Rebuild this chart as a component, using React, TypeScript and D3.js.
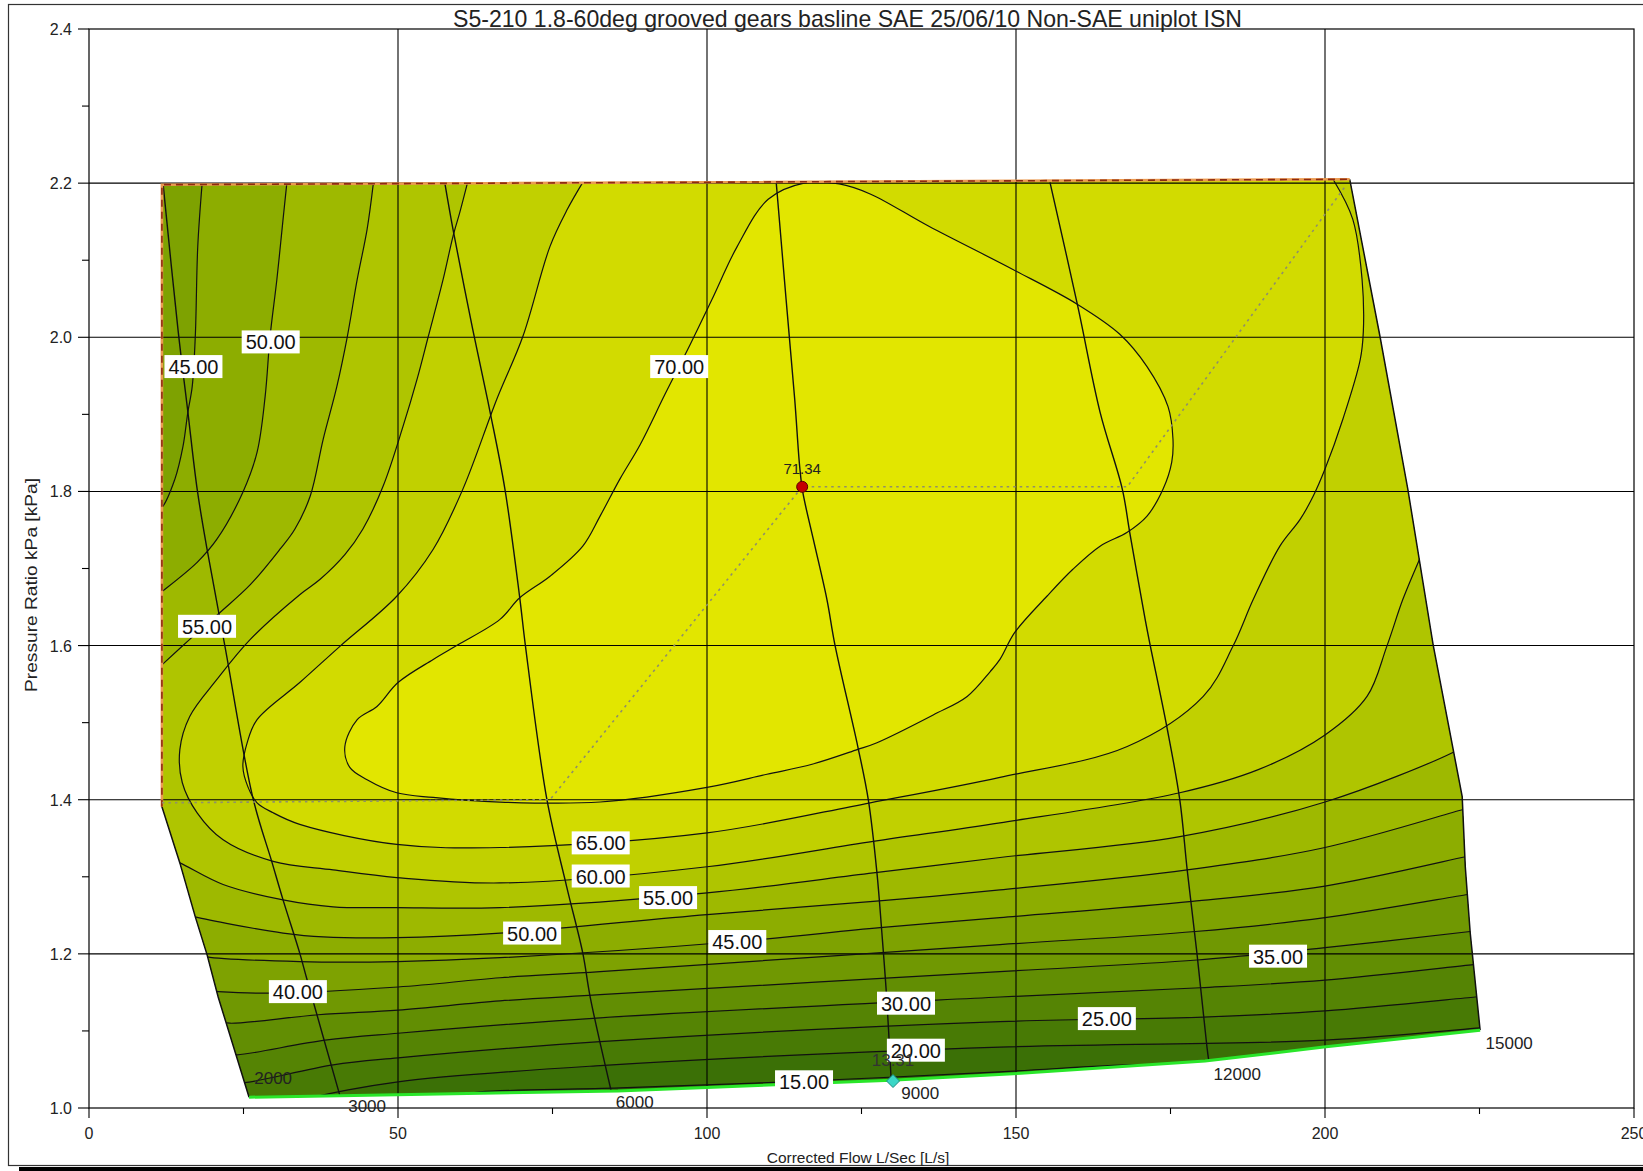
import React from 'react';
import * as d3 from 'd3';

type P = [number, number];

const TITLE = 'S5-210 1.8-60deg grooved gears basline SAE 25/06/10 Non-SAE uniplot ISN';
const X_TITLE = 'Corrected Flow L/Sec [L/s]';
const Y_TITLE = 'Pressure Ratio kPa [kPa]';

const X_MAJOR = [0, 50, 100, 150, 200, 250];
const X_MINOR = [25, 75, 125, 175, 225];
const Y_MAJOR = [1.0, 1.2, 1.4, 1.6, 1.8, 2.0, 2.2, 2.4];
const Y_MINOR = [1.1, 1.3, 1.5, 1.7, 1.9, 2.1, 2.3];

const LEVELS = [15, 20, 25, 30, 35, 40, 45, 50, 55, 60, 65, 70];
const BAND_COLORS = ['#2f6606', '#3b7006', '#487a05', '#558404', '#628e03', '#709802', '#7ea201',
  '#8dad00', '#9eb900', '#afc500', '#c1d000', '#d2db00', '#e2e600'];

// map boundary (flow L/s, pressure ratio)
const SURGE_LINE: P[] = [[11.8, 1.391], [11.8, 2.198], [204.0, 2.205]];
const SPEED_15000: P[] = [[204.0, 2.205], [208.9, 2.001], [213.4, 1.803], [217.5, 1.601], [222.2, 1.404], [222.7, 1.313], [223.5, 1.227], [225.1, 1.101]];
const CHOKE_EDGE: P[] = [[225.1, 1.101], [199.8, 1.079], [180.6, 1.061], [150.8, 1.045], [129.8, 1.036], [85.6, 1.022], [40.6, 1.016], [25.9, 1.014]];
const SPEED_2000: P[] = [[25.9, 1.014], [20.9, 1.144], [19.1, 1.199], [17.2, 1.248], [14.7, 1.318], [11.8, 1.391]];

// speed lines
const SPEED_3000: P[] = [[12.0, 2.198], [14.4, 2.010], [16.0, 1.903], [17.5, 1.803], [19.1, 1.725], [22.0, 1.599], [26.5, 1.403], [29.6, 1.319], [31.4, 1.270], [34.1, 1.201], [35.3, 1.166], [40.6, 1.016]];
const SPEED_6000: P[] = [[57.6, 2.199], [58.9, 2.140], [62.1, 2.010], [64.9, 1.903], [67.3, 1.803], [69.7, 1.662], [70.6, 1.601], [74.1, 1.400], [77.3, 1.287], [79.9, 1.201], [81.1, 1.144], [84.5, 1.022]];
const SPEED_9000: P[] = [[111.2, 2.201], [112.8, 2.049], [114.2, 1.919], [115.0, 1.832], [115.5, 1.799], [117.2, 1.738], [119.4, 1.660], [120.7, 1.601], [124.4, 1.469], [126.1, 1.400], [127.5, 1.305], [128.3, 1.227], [129.1, 1.140], [129.8, 1.036]];
const SPEED_12000: P[] = [[155.5, 2.201], [160.0, 2.040], [163.6, 1.903], [167.2, 1.803], [168.4, 1.747], [170.9, 1.634], [171.7, 1.601], [174.4, 1.495], [176.5, 1.400], [177.7, 1.309], [179.3, 1.199], [180.9, 1.079], [181.2, 1.061]];

// efficiency contours
const C70: P[] = [[115.7, 2.200], [109.9, 2.179], [104.9, 2.118], [100.8, 2.049], [97.3, 1.991], [93.2, 1.926], [89.2, 1.861], [85.9, 1.816], [82.7, 1.768], [79.9, 1.729], [74.6, 1.690], [69.7, 1.662], [66.5, 1.634], [59.7, 1.601], [55.7, 1.582], [50.0, 1.552], [46.6, 1.521], [43.4, 1.504], [41.4, 1.469], [42.2, 1.442], [45.0, 1.426], [49.8, 1.409], [55.7, 1.403], [66.5, 1.397], [82.7, 1.397], [100.0, 1.416], [109.7, 1.433], [117.0, 1.446], [124.3, 1.465], [127.5, 1.474], [136.6, 1.510], [142.1, 1.534], [145.8, 1.566], [147.4, 1.582], [149.8, 1.617], [155.0, 1.664], [159.2, 1.699], [163.6, 1.729], [168.0, 1.747], [171.2, 1.768], [173.8, 1.803], [175.2, 1.838], [175.4, 1.868], [174.6, 1.910], [171.2, 1.962], [166.8, 2.004], [159.9, 2.043], [149.5, 2.088], [135.9, 2.144], [126.4, 2.186], [121.4, 2.199]];
const C65: P[] = [[79.9, 2.201], [77.4, 2.166], [74.6, 2.118], [70.2, 2.001], [66.0, 1.920], [60.5, 1.803], [55.7, 1.725], [49.8, 1.664], [40.6, 1.599], [34.1, 1.552], [27.2, 1.504], [25.6, 1.474], [24.9, 1.443], [25.7, 1.417], [27.2, 1.396], [29.8, 1.383], [34.1, 1.368], [49.8, 1.342], [66.5, 1.338], [100.0, 1.357], [126.4, 1.396], [147.4, 1.429], [168.0, 1.469], [180.3, 1.534], [185.1, 1.599], [188.4, 1.660], [192.7, 1.729], [196.0, 1.764], [198.1, 1.794], [200.0, 1.829], [202.9, 1.894], [205.7, 1.971], [206.2, 2.007], [206.0, 2.075], [204.5, 2.153], [201.3, 2.205]];
const C60: P[] = [[61.2, 2.199], [60.0, 2.162], [58.9, 2.131], [57.3, 2.075], [54.9, 2.001], [53.1, 1.946], [50.8, 1.884], [47.6, 1.807], [44.3, 1.751], [41.4, 1.718], [37.4, 1.686], [34.1, 1.666], [26.1, 1.608], [20.7, 1.556], [16.3, 1.508], [14.7, 1.465], [15.1, 1.422], [17.5, 1.383], [21.7, 1.348], [29.8, 1.320], [39.5, 1.309], [49.8, 1.299], [66.5, 1.292], [100.0, 1.313], [126.9, 1.346], [147.4, 1.370], [176.5, 1.409], [189.2, 1.439], [200.0, 1.484], [206.8, 1.534], [210.0, 1.599], [212.6, 1.660], [215.4, 1.714], [216.5, 1.735]];
const C55_UPPER: P[] = [[46.0, 2.199], [45.0, 2.140], [43.4, 2.075], [41.8, 2.001], [40.1, 1.936], [37.9, 1.868], [35.8, 1.794], [33.3, 1.751], [30.9, 1.725], [26.1, 1.679], [21.2, 1.643], [16.3, 1.608], [11.8, 1.575], [10.0, 1.562]];
const C55_LOWER: P[] = [[13.0, 1.323], [14.7, 1.318], [21.7, 1.290], [31.4, 1.270], [39.5, 1.261], [49.8, 1.260], [66.5, 1.260], [100.0, 1.279], [126.9, 1.305], [147.4, 1.325], [176.5, 1.352], [200.0, 1.397], [220.6, 1.461], [223.5, 1.475]];
const C50_UPPER: P[] = [[32.0, 2.199], [31.4, 2.153], [30.4, 2.075], [29.3, 2.001], [28.5, 1.923], [27.2, 1.851], [24.9, 1.799], [20.7, 1.738], [17.5, 1.708], [11.8, 1.670], [10.0, 1.659]];
const C50_LOWER: P[] = [[15.5, 1.252], [17.2, 1.248], [23.3, 1.238], [31.4, 1.227], [37.9, 1.222], [49.8, 1.221], [66.5, 1.227], [100.0, 1.251], [126.9, 1.268], [147.4, 1.283], [177.7, 1.309], [200.0, 1.338], [222.2, 1.387], [224.5, 1.392]];
const C45_UPPER: P[] = [[18.3, 2.199], [17.6, 2.118], [17.2, 2.001], [16.7, 1.936], [16.0, 1.903], [15.2, 1.858], [13.9, 1.816], [11.8, 1.779], [10.0, 1.770]];
const C45_LOWER: P[] = [[17.5, 1.200], [19.1, 1.196], [34.1, 1.190], [49.8, 1.190], [66.5, 1.195], [104.9, 1.216], [128.0, 1.234], [147.4, 1.247], [178.5, 1.268], [200.0, 1.288], [222.7, 1.326], [225.0, 1.330]];
const C40: P[] = [[19.5, 1.152], [20.9, 1.151], [29.0, 1.149], [50.0, 1.157], [66.5, 1.169], [82.7, 1.177], [147.4, 1.212], [179.0, 1.229], [200.0, 1.247], [223.1, 1.277], [225.5, 1.280]];
const C35: P[] = [[21.5, 1.112], [22.8, 1.110], [37.1, 1.121], [50.0, 1.127], [66.5, 1.139], [82.7, 1.147], [147.4, 1.177], [179.3, 1.192], [200.0, 1.208], [223.5, 1.229], [226.0, 1.232]];
const C30: P[] = [[22.5, 1.070], [24.0, 1.069], [38.2, 1.088], [50.0, 1.097], [82.7, 1.117], [147.4, 1.144], [179.8, 1.156], [200.0, 1.166], [224.0, 1.186], [226.5, 1.188]];
const C25: P[] = [[24.0, 1.034], [25.2, 1.033], [39.5, 1.056], [50.0, 1.065], [82.7, 1.086], [147.4, 1.112], [180.3, 1.118], [200.0, 1.126], [224.3, 1.144], [227.0, 1.146]];
const C20: P[] = [[35.0, 1.010], [36.4, 1.014], [50.0, 1.034], [82.7, 1.055], [147.4, 1.079], [200.0, 1.088], [225.1, 1.104], [228.0, 1.106]];
const C15: P[] = [[60.0, 1.017], [63.3, 1.021], [85.9, 1.026], [115.9, 1.035], [147.4, 1.047], [168.5, 1.056], [172.0, 1.055]];

// contour labels: [text, flow, PR]
const CONTOUR_LABELS: [string, number, number][] = [
  ['45.00', 16.9, 1.962], ['50.00', 29.4, 1.994], ['70.00', 95.5, 1.962], ['55.00', 19.1, 1.625],
  ['65.00', 82.8, 1.344], ['60.00', 82.8, 1.301], ['55.00', 93.7, 1.273], ['50.00', 71.7, 1.227],
  ['45.00', 104.9, 1.216], ['40.00', 33.8, 1.151], ['35.00', 192.4, 1.197], ['30.00', 132.2, 1.136],
  ['25.00', 164.7, 1.116], ['20.00', 133.8, 1.075], ['15.00', 115.7, 1.034],
];
// speed labels: [text, flow, PR]
const SPEED_LABELS: [string, number, number][] = [
  ['2000', 29.8, 1.039], ['3000', 45.0, 1.003], ['6000', 88.3, 1.008],
  ['9000', 134.5, 1.019], ['12000', 185.8, 1.044], ['15000', 229.8, 1.084],
];
const OP_LINE: P[] = [[11.8, 1.396], [74.6, 1.400], [115.4, 1.806], [168.0, 1.806], [203.2, 2.195]];
const PEAK: [number, number, string] = [115.4, 1.806, '71.34'];
const LOW: [number, number, string] = [130.1, 1.035, '13.31'];

const FONT = "'Liberation Sans', Arial, Helvetica, sans-serif";

export default function App() {
  const x = d3.scaleLinear().domain([0, 250]).range([89, 1634]);
  const y = d3.scaleLinear().domain([1.0, 2.4]).range([1108, 29]);
  const smooth = d3.line<P>().x(d => x(d[0])).y(d => y(d[1])).curve(d3.curveCatmullRom.alpha(0.5));
  const loop = d3.line<P>().x(d => x(d[0])).y(d => y(d[1])).curve(d3.curveCatmullRomClosed.alpha(0.5));
  const lin = d3.line<P>().x(d => x(d[0])).y(d => y(d[1]));
  const tail = (pts: P[]) => pts.map(p => `L${x(p[0])},${y(p[1])}`).join('');
  const cont = (pts: P[]) => 'L' + (smooth(pts) as string).slice(1);
  const XL = -6, XR = 245, PT = 2.32, PB = 0.96;
  const first = (a: P[]) => a[0];
  const last = (a: P[]) => a[a.length - 1];

  const domain: P[] = [...SURGE_LINE, ...SPEED_15000.slice(1), ...CHOKE_EDGE.slice(1), ...SPEED_2000.slice(1, -1)];
  const domainPath = lin(domain) + 'Z';

  const across = (c: P[]) => smooth(c) + tail([[XR, last(c)[1]], [XR, PT], [XL, PT], [XL, first(c)[1]]]) + 'Z';
  const split = (u: P[], l: P[]) => smooth(u) + tail([[XL, last(u)[1]], [XL, first(l)[1]]]) + cont(l) +
    tail([[XR, last(l)[1]], [XR, PT], [first(u)[0], PT]]) + 'Z';

  const superPaths: string[] = [
    smooth(C15) + tail([[last(C15)[0], PB], [XR, PB], [XR, PT], [XL, PT], [XL, PB], [first(C15)[0], PB]]) + 'Z',
    smooth(C20) + tail([[XR, last(C20)[1]], [XR, PT], [XL, PT], [XL, PB], [first(C20)[0], PB]]) + 'Z',
    across(C25), across(C30), across(C35), across(C40),
    split(C45_UPPER, C45_LOWER), split(C50_UPPER, C50_LOWER), split(C55_UPPER, C55_LOWER),
    smooth(C60) + tail([[XR, last(C60)[1]], [XR, PT], [first(C60)[0], PT]]) + 'Z',
    smooth(C65) + tail([[last(C65)[0], PT], [first(C65)[0], PT]]) + 'Z',
    loop(C70) as string,
  ];
  const contourLines: string[] = [C15, C20, C25, C30, C35, C40, C45_UPPER, C45_LOWER, C50_UPPER, C50_LOWER,
    C55_UPPER, C55_LOWER, C60, C65].map(c => smooth(c) as string).concat([loop(C70) as string]);
  const speedLines = [SPEED_3000, SPEED_6000, SPEED_9000, SPEED_12000];

  const boxW = 58, boxH = 23;

  return (
    <svg width={1643} height={1171} style={{ position: 'absolute', left: 0, top: 0, background: '#fff' }}
      fontFamily={FONT}>
      <defs>
        <clipPath id="mapClip"><path d={domainPath} /></clipPath>
      </defs>
      <rect x={0} y={0} width={1643} height={1171} fill="#fff" />
      <rect x={8.5} y={4.5} width={1700} height={1161} fill="none" stroke="#333" strokeWidth={1.2} />
      <rect x={19} y={1167} width={1624} height={4} fill="#000" />

      {/* filled bands */}
      <g clipPath="url(#mapClip)">
        <path d={domainPath} fill={BAND_COLORS[0]} />
        {superPaths.map((d, i) => <path key={i} d={d} fill={BAND_COLORS[i + 1]} />)}
      </g>

      {/* grid */}
      <g stroke="#000" strokeWidth={1.1}>
        {X_MAJOR.slice(1, -1).map(v => <line key={'gx' + v} x1={x(v)} x2={x(v)} y1={y(2.4)} y2={y(1.0)} />)}
        {Y_MAJOR.slice(1, -1).map(v => <line key={'gy' + v} x1={x(0)} x2={x(250)} y1={y(v)} y2={y(v)} />)}
      </g>

      {/* contours & speed lines */}
      <g clipPath="url(#mapClip)" fill="none" stroke="#111" strokeWidth={1.2}>
        {contourLines.map((d, i) => <path key={'c' + i} d={d} />)}
        {speedLines.map((s, i) => <path key={'s' + i} d={smooth(s) as string} strokeWidth={1.4} />)}
      </g>
      <path d={lin(SPEED_15000) as string} fill="none" stroke="#111" strokeWidth={1.5} />
      <path d={lin(SPEED_2000) as string} fill="none" stroke="#111" strokeWidth={1.5} />
      <path d={lin(CHOKE_EDGE) as string} fill="none" stroke="#2ae62a" strokeWidth={3} />
      <path d={lin(SURGE_LINE) as string} fill="none" stroke="#eb9a50" strokeWidth={2.6} />
      <path d={lin(SURGE_LINE) as string} fill="none" stroke="#8e2a10" strokeWidth={1.6} strokeDasharray="7,5" />
      <path d={lin(OP_LINE) as string} fill="none" stroke="#8f8f6a" strokeWidth={1.6} strokeDasharray="2.5,4" />

      {/* axes */}
      <rect x={x(0)} y={y(2.4)} width={x(250) - x(0)} height={y(1.0) - y(2.4)} fill="none" stroke="#000" strokeWidth={1.2} />
      <g stroke="#000" strokeWidth={1.1}>
        {Y_MAJOR.map(v => <line key={'ty' + v} x1={x(0) - 11} x2={x(0)} y1={y(v)} y2={y(v)} />)}
        {Y_MINOR.map(v => <line key={'my' + v} x1={x(0) - 7} x2={x(0)} y1={y(v)} y2={y(v)} />)}
        {X_MAJOR.map(v => <line key={'tx' + v} x1={x(v)} x2={x(v)} y1={y(1.0)} y2={y(1.0) + 10} />)}
        {X_MINOR.map(v => <line key={'mx' + v} x1={x(v)} x2={x(v)} y1={y(1.0)} y2={y(1.0) + 6} />)}
      </g>
      <g fontSize={16} fill="#222">
        {Y_MAJOR.map(v => <text key={'ly' + v} x={72} y={y(v) + 6} textAnchor="end">{v.toFixed(1)}</text>)}
        {X_MAJOR.map(v => <text key={'lx' + v} x={x(v)} y={1139} textAnchor="middle">{v}</text>)}
      </g>
      <text x={847.5} y={27} fontSize={24} fill="#222" textAnchor="middle" textLength={789} lengthAdjust="spacingAndGlyphs">{TITLE}</text>
      <text x={858} y={1163} fontSize={15.5} fill="#222" textAnchor="middle">{X_TITLE}</text>
      <text transform="translate(37,585) rotate(-90)" fontSize={16.5} fill="#222" textAnchor="middle"
        textLength={214} lengthAdjust="spacingAndGlyphs">{Y_TITLE}</text>

      {/* contour labels */}
      {CONTOUR_LABELS.map(([t, f, p], i) => (
        <g key={'cl' + i} transform={`translate(${x(f)},${y(p)})`}>
          <rect x={-boxW / 2} y={-boxH / 2} width={boxW} height={boxH} fill="#fff" />
          <text x={0} y={7.5} fontSize={20} textAnchor="middle" fill="#111">{t}</text>
        </g>
      ))}
      {/* speed labels */}
      {SPEED_LABELS.map(([t, f, p], i) => (
        <text key={'sl' + i} x={x(f)} y={y(p) + 6} fontSize={17} textAnchor="middle" fill="#222">{t}</text>
      ))}

      {/* peak & low points */}
      <circle cx={x(PEAK[0])} cy={y(PEAK[1])} r={5.5} fill="#c40000" stroke="#5a0000" strokeWidth={1} />
      <text x={x(PEAK[0])} y={y(PEAK[1]) - 13} fontSize={15} textAnchor="middle" fill="#222">{PEAK[2]}</text>
      <path d="M0,-6.5L6.5,0L0,6.5L-6.5,0Z" transform={`translate(${x(LOW[0])},${y(LOW[1])})`} fill="#3ad6c6" stroke="#1a8a80" />
      <text x={x(LOW[0])} y={y(LOW[1]) - 15} fontSize={17} textAnchor="middle" fill="#333">{LOW[2]}</text>
    </svg>
  );
}
